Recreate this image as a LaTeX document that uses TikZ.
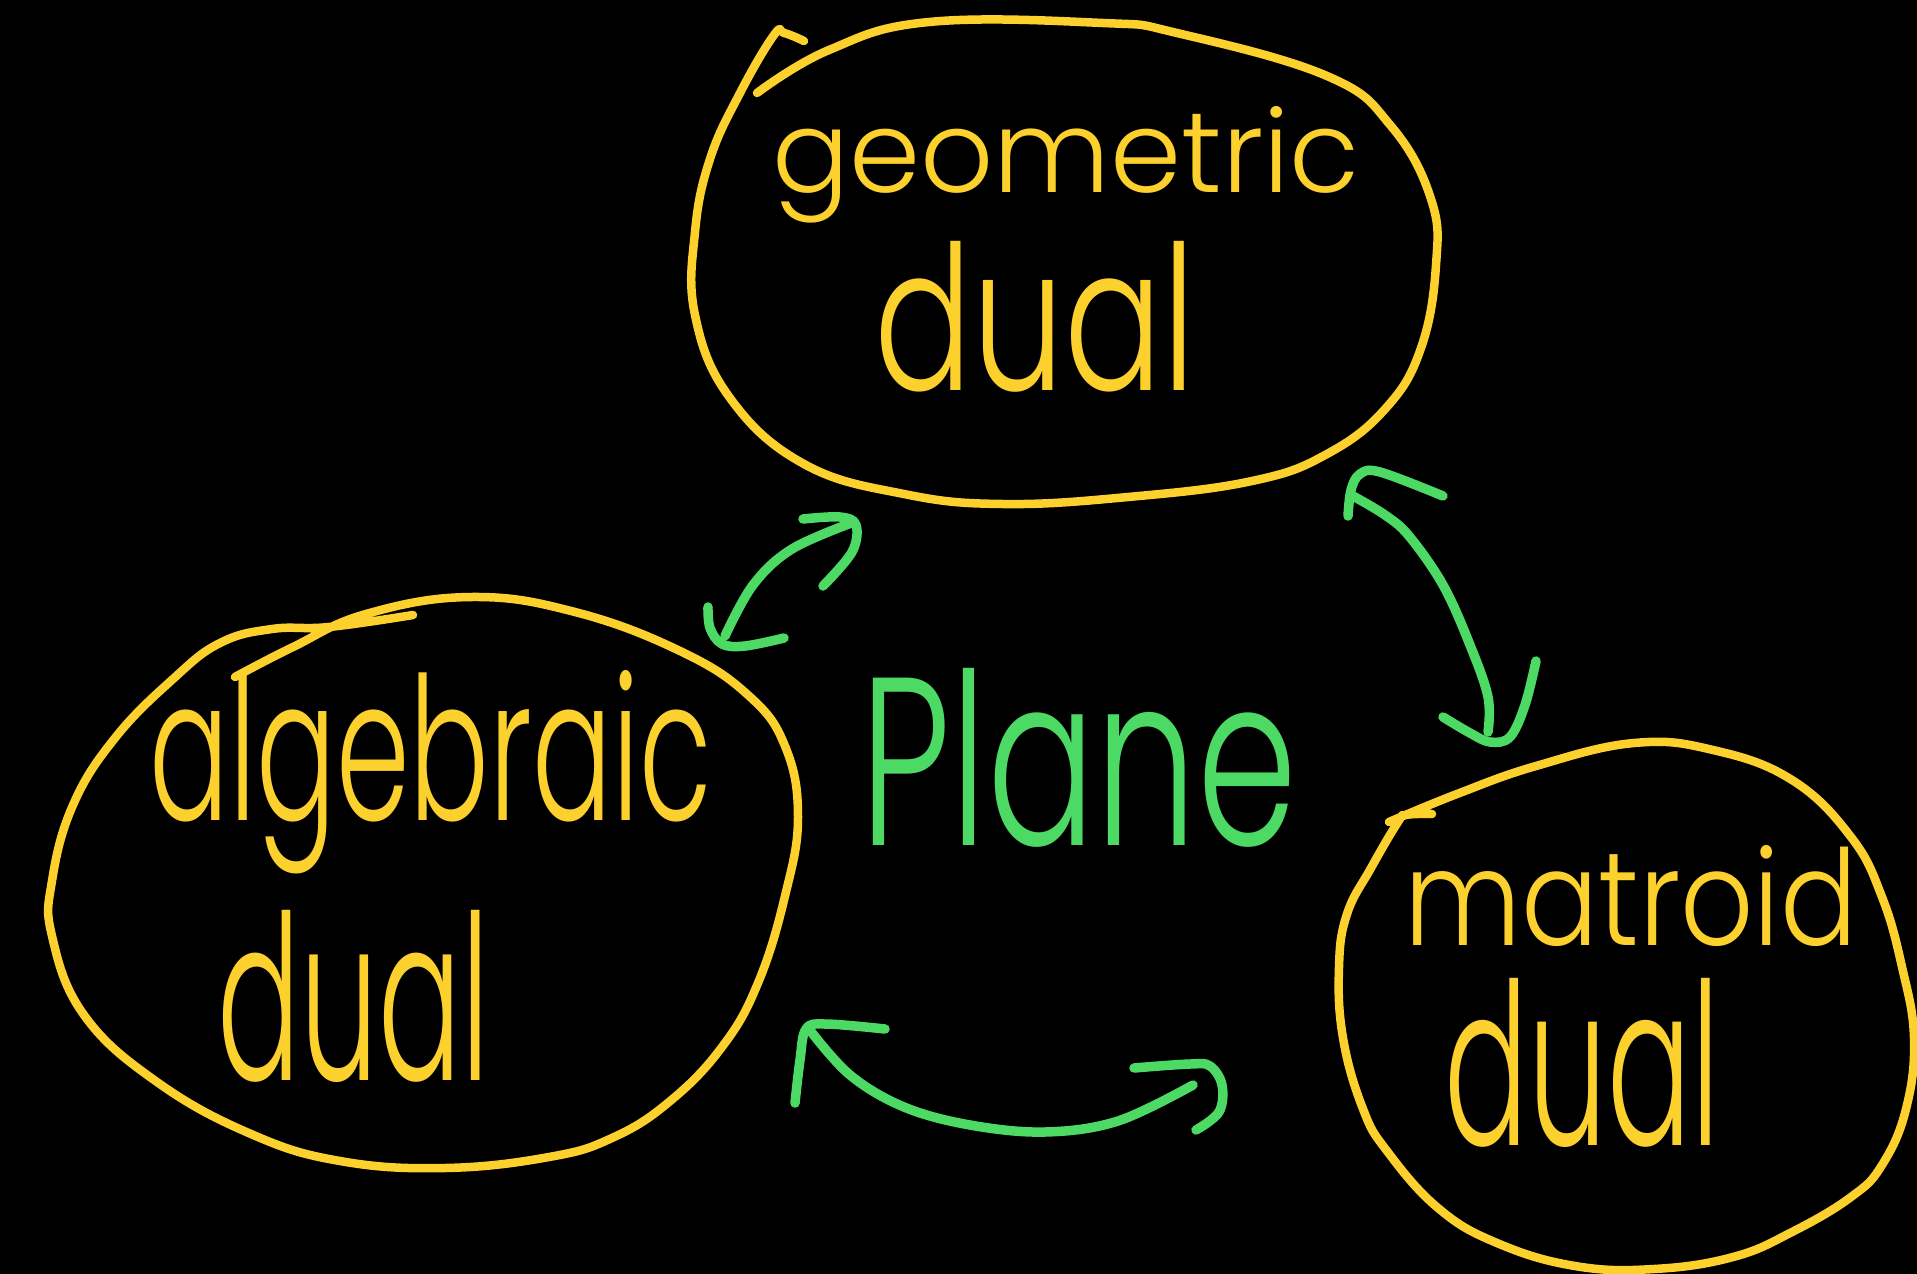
\documentclass[tikz,border=0pt]{standalone}
\usepackage{fontspec}
\usepackage{graphicx}
\IfFontExistsTF{Poppins Light}{\newfontfamily\hand{Poppins Light}}{%
 \IfFontExistsTF{Poppins-Light.ttf}{\newfontfamily\hand{Poppins-Light.ttf}}{%
  \IfFontExistsTF{DejaVuSans-ExtraLight.ttf}{\newfontfamily\hand{DejaVuSans-ExtraLight.ttf}}{%
   \newfontfamily\hand{Poppins}}}}
\definecolor{ylw}{HTML}{FCD12E}
\definecolor{grn}{HTML}{4CD964}
\tikzset{
  blob/.style={draw=ylw, line width=8.5pt, line cap=round, line join=round},
  garrow/.style={draw=grn, line width=9.5pt, line cap=round, line join=round},
  word/.style={inner sep=0pt, anchor=base west, text=ylw},
  gword/.style={inner sep=0pt, anchor=base west, text=grn}
}
\begin{document}
\begin{tikzpicture}[x=1pt,y=-1pt]
\fill[black] (0,0) rectangle (1917,1274);
\useasboundingbox (0,0) rectangle (1917,1274);

% blobs
\draw[blob] plot[smooth, tension=0.7] coordinates {(757,93) (829,50) (929,22) (1103,23) (1177,33) (1327,76) (1391,126) (1431,199) (1436,265) (1421,348) (1386,408) (1327,454) (1252,481) (1128,497) (1003,504) (904,494) (804,464) (730,398) (695,315) (695,232) (710,159) (740,93) (774,35) (784,33) (804,41)};
\draw[blob] plot[smooth, tension=0.7] coordinates {(235,677) (293,647) (366,614) (471,597) (575,612) (680,651) (748,695) (785,746) (798,817) (785,896) (758,983) (722,1047) (669,1102) (612,1138) (549,1157) (445,1168) (340,1161) (251,1134) (157,1082) (84,1015) (52,936) (52,881) (73,805) (115,738) (173,679) (220,643) (272,629) (329,627) (413,615)};
\draw[blob] plot[smooth, tension=0.7] coordinates {(1389,822) (1457,794) (1536,766) (1634,743) (1713,750) (1792,780) (1851,837) (1882,897) (1902,967) (1914,1038) (1906,1109) (1882,1165) (1851,1197) (1792,1232) (1733,1257) (1654,1269) (1575,1266) (1497,1243) (1438,1208) (1387,1151) (1363,1109) (1343,1038) (1339,967) (1347,914) (1371,868) (1398,822) (1406,815) (1432,814)};

% words
\node[word] (geo1) at (772,192) {\resizebox{587pt}{86pt}{\hand geometric}};
\node[word] (geo2) at (874,390) {\resizebox{321pt}{149pt}{\hand dual}};
\node[word] (alg1) at (149,820) {\resizebox{562pt}{150pt}{\hand algebraic}};
\node[word] (alg2) at (217,1080) {\resizebox{272pt}{170pt}{\hand dual}};
\node[word] (mat1) at (1404,945) {\resizebox{453pt}{100pt}{\hand matroid}};
\node[word] (mat2) at (1444,1145) {\resizebox{275pt}{167pt}{\hand dual}};
\node[gword] (plane) at (860,845) {\resizebox{437pt}{177pt}{\hand Plane}};

% arrow A: geometric <-> algebraic
\coordinate (aA) at (725,636);
\coordinate (bA) at (854,522);
\draw[garrow] plot[smooth, tension=0.6] coordinates {(aA) (753,585) (792,549) (bA)};
\draw[garrow] plot[smooth, tension=0.6] coordinates {(803,519) (840,517) (856,525) (852,552) (823,586)};
\draw[garrow] plot[smooth, tension=0.6] coordinates {(708,607) (710,628) (722,644) (745,646) (784,638)};

% arrow B: geometric <-> matroid
\coordinate (aB) at (1353,496);
\coordinate (bB) at (1488,732);
\draw[garrow] plot[smooth, tension=0.6] coordinates {(aB) (1385,515) (1409,536) (1443,585) (1470,645) (1488,697) (bB)};
\draw[garrow] plot[smooth, tension=0.6] coordinates {(1348,516) (1351,490) (1360,474) (1380,472) (1443,496)};
\draw[garrow] plot[smooth, tension=0.6] coordinates {(1443,717) (1470,733) (1490,742) (1510,737) (1525,705) (1536,661)};

% arrow C: algebraic <-> matroid
\coordinate (aC) at (809,1029);
\coordinate (bC) at (1193,1085);
\draw[garrow] plot[smooth, tension=0.6] coordinates {(aC) (850,1075) (904,1107) (970,1125) (1045,1132) (1118,1121) (bC)};
\draw[garrow] plot[smooth, tension=0.6] coordinates {(795,1103) (800,1060) (806,1029) (826,1024) (885,1029)};
\draw[garrow] plot[smooth, tension=0.6] coordinates {(1134,1068) (1190,1064) (1210,1066) (1222,1085) (1219,1112) (1196,1130)};
\end{tikzpicture}
\end{document}
